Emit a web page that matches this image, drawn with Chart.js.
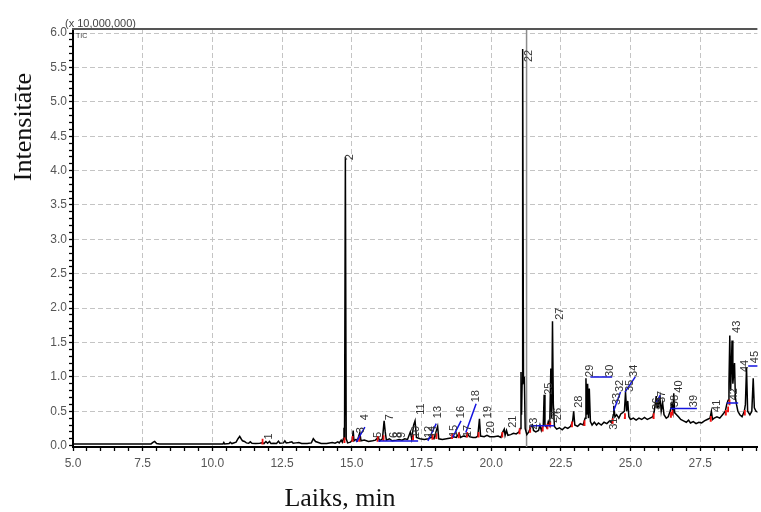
<!DOCTYPE html>
<html>
<head>
<meta charset="utf-8">
<script src="https://cdn.jsdelivr.net/npm/chart.js@4.4.1/dist/chart.umd.min.js"></script>
<style>
  html, body { margin: 0; padding: 0; background: #fff; }
  #wrap { width: 761px; height: 512px; }
</style>
</head>
<body>
<div id="wrap"><canvas id="chart" width="761" height="512"></canvas></div>
<script>
// TIC trace, time in min, intensity in x10,000,000
const times = [5.0, 6.0, 7.0, 7.8, 7.88, 7.93, 8.0, 8.1, 9.0, 10.0, 10.38, 10.41, 10.44, 10.6, 10.64, 10.7, 10.85, 10.92, 10.98, 11.03,
  11.08, 11.15, 11.22, 11.3, 11.36, 11.42, 11.55, 11.7, 11.78, 11.85, 11.92, 11.98, 12.05, 12.1, 12.2, 12.3, 12.37, 12.42, 12.55, 12.6,
  12.65, 12.75, 12.85, 12.9, 13.0, 13.1, 13.2, 13.4, 13.55, 13.62, 13.7, 13.8, 13.9, 14.1, 14.3, 14.4, 14.5, 14.55, 14.62, 14.66,
  14.7, 14.72, 14.74, 14.77, 14.8, 14.85, 14.95, 15.02, 15.05, 15.08, 15.15, 15.2, 15.29, 15.33, 15.45, 15.6, 15.75, 15.85, 15.95, 16.0,
  16.1, 16.16, 16.2, 16.24, 16.35, 16.45, 16.6, 16.7, 16.8, 16.9, 17.0, 17.1, 17.15, 17.22, 17.27, 17.32, 17.45, 17.6, 17.75, 17.85,
  17.95, 18.02, 18.08, 18.12, 18.25, 18.4, 18.55, 18.65, 18.75, 18.85, 18.9, 19.0, 19.1, 19.16, 19.22, 19.35, 19.45, 19.52, 19.58, 19.62,
  19.75, 19.85, 19.95, 20.1, 20.25, 20.35, 20.42, 20.47, 20.5, 20.55, 20.6, 20.7, 20.8, 20.9, 21.0, 21.04, 21.07, 21.09, 21.11, 21.13,
  21.16, 21.19, 21.22, 21.28, 21.35, 21.42, 21.48, 21.52, 21.6, 21.7, 21.75, 21.8, 21.87, 21.9, 21.93, 22.0, 22.05, 22.1, 22.14, 22.17,
  22.2, 22.23, 22.27, 22.35, 22.45, 22.55, 22.65, 22.75, 22.85, 22.92, 22.96, 23.0, 23.1, 23.2, 23.3, 23.37, 23.4, 23.43, 23.46, 23.49,
  23.52, 23.56, 23.62, 23.7, 23.78, 23.85, 23.95, 24.05, 24.15, 24.25, 24.33, 24.38, 24.4, 24.44, 24.5, 24.58, 24.65, 24.72, 24.78, 24.82,
  24.86, 24.9, 24.94, 25.0, 25.1, 25.2, 25.3, 25.4, 25.5, 25.6, 25.7, 25.8, 25.85, 25.9, 25.92, 25.95, 25.98, 26.02, 26.06, 26.1,
  26.15, 26.2, 26.28, 26.35, 26.42, 26.48, 26.52, 26.55, 26.58, 26.65, 26.72, 26.8, 26.9, 27.0, 27.08, 27.15, 27.25, 27.35, 27.45, 27.55,
  27.65, 27.75, 27.85, 27.9, 27.94, 28.0, 28.1, 28.2, 28.3, 28.4, 28.45, 28.5, 28.53, 28.56, 28.59, 28.62, 28.64, 28.67, 28.7, 28.73,
  28.76, 28.8, 28.85, 28.92, 29.0, 29.08, 29.12, 29.16, 29.2, 29.28, 29.35, 29.4, 29.44, 29.5, 29.6];
const tic = [0.025, 0.025, 0.025, 0.025, 0.05, 0.06, 0.03, 0.025, 0.025, 0.025, 0.025, 0.045, 0.025, 0.03, 0.05, 0.03, 0.05, 0.1, 0.135, 0.1,
  0.07, 0.06, 0.04, 0.035, 0.055, 0.035, 0.03, 0.035, 0.04, 0.03, 0.06, 0.035, 0.06, 0.03, 0.035, 0.03, 0.065, 0.035, 0.04, 0.07,
  0.04, 0.045, 0.055, 0.035, 0.04, 0.045, 0.03, 0.03, 0.04, 0.1, 0.06, 0.045, 0.03, 0.03, 0.045, 0.035, 0.055, 0.04, 0.08, 0.05,
  0.1, 0.26, 0.08, 4.2, 0.1, 0.04, 0.05, 0.08, 0.22, 0.07, 0.09, 0.07, 0.19, 0.07, 0.08, 0.06, 0.07, 0.08, 0.12, 0.07,
  0.1, 0.36, 0.2, 0.08, 0.1, 0.07, 0.08, 0.09, 0.08, 0.1, 0.09, 0.2, 0.1, 0.3, 0.36, 0.12, 0.1, 0.09, 0.1, 0.12,
  0.1, 0.2, 0.28, 0.1, 0.09, 0.1, 0.11, 0.13, 0.12, 0.18, 0.12, 0.14, 0.13, 0.17, 0.13, 0.12, 0.12, 0.14, 0.39, 0.14,
  0.13, 0.15, 0.13, 0.13, 0.14, 0.12, 0.2, 0.24, 0.15, 0.22, 0.15, 0.16, 0.18, 0.17, 0.2, 0.25, 1.07, 0.45, 0.9, 5.77,
  0.9, 1.0, 0.25, 0.16, 0.2, 0.27, 0.3, 0.22, 0.2, 0.22, 0.3, 0.22, 0.3, 0.74, 0.3, 0.26, 0.35, 0.3, 1.12, 0.4,
  1.81, 0.6, 0.28, 0.24, 0.26, 0.23, 0.27, 0.25, 0.28, 0.35, 0.5, 0.3, 0.28, 0.32, 0.3, 0.4, 0.98, 0.45, 0.9, 0.4,
  0.83, 0.35, 0.3, 0.34, 0.3, 0.33, 0.3, 0.34, 0.32, 0.36, 0.33, 0.45, 0.58, 0.42, 0.45, 0.4, 0.46, 0.48, 0.5, 0.78,
  0.5, 0.65, 0.42, 0.38, 0.4, 0.37, 0.4, 0.38, 0.41, 0.38, 0.4, 0.42, 0.5, 0.65, 0.72, 0.55, 0.68, 0.6, 0.7, 0.5,
  0.62, 0.45, 0.4, 0.42, 0.5, 0.6, 0.5, 0.76, 0.48, 0.45, 0.42, 0.38, 0.36, 0.34, 0.37, 0.33, 0.35, 0.32, 0.34, 0.33,
  0.36, 0.38, 0.4, 0.5, 0.38, 0.4, 0.42, 0.4, 0.45, 0.5, 0.6, 0.66, 0.9, 1.6, 0.8, 1.2, 1.53, 0.9, 1.05, 1.2,
  0.7, 0.6, 0.5, 0.45, 0.42, 0.5, 0.6, 1.14, 0.5, 0.45, 0.5, 0.98, 0.55, 0.5, 0.48];

// integration marks (red) at peak starts
const redT = [11.8, 14.74, 15.03, 15.27, 15.93, 16.14, 17.2, 17.9, 18.04, 18.6, 18.84, 19.14, 19.55, 20.4, 21.02, 21.4, 21.85, 22.02, 22.12,
  22.9, 23.35, 24.36, 24.8, 25.83, 26.45, 26.5, 27.88, 28.42, 28.5, 28.55, 29.1];
const redV = [0.03, 0.05, 0.07, 0.07, 0.07, 0.08, 0.09, 0.1, 0.11, 0.11, 0.12, 0.13, 0.13, 0.13, 0.18, 0.2, 0.22, 0.25, 0.28,
  0.28, 0.3, 0.33, 0.4, 0.4, 0.42, 0.45, 0.36, 0.45, 0.5, 0.6, 0.45];

// label leader lines (blue)
const blueX0 = [15.16, 15.95, 17.73, 18.62, 19.09, 21.41, 23.56, 24.4, 24.8, 25.93, 26.42, 28.45, 29.22];
const blueY0 = [0.05, 0.067, 0.07, 0.12, 0.19, 0.29, 1.0, 0.51, 0.78, 0.63, 0.54, 0.62, 1.16];
const blueX1 = [15.47, 17.38, 18.03, 18.92, 19.46, 22.26, 24.34, 24.64, 25.17, 26.06, 27.38, 28.86, 29.6];
const blueY1 = [0.27, 0.067, 0.32, 0.36, 0.61, 0.29, 1.0, 0.78, 1.0, 0.73, 0.54, 0.62, 1.16];

// peak numbers
const peakNames = ['1', '2', '22', '27', '3', '4', '5', '6', '8', '7', '9', '10', '11', '12', '14', '13', '15', '16', '17', '18', '19',
  '20', '21', '23', '24', '25', '26', '28', '29', '30', '31', '32', '33', '34', '35', '36', '37', '38', '40', '39', '41',
  '42', '43', '44', '45'];
const peakT = [12.02, 14.95, 21.34, 22.48, 15.34, 15.48, 15.95, 16.52, 16.66, 16.38, 16.8, 17.3, 17.48, 17.77, 17.91, 18.09, 18.66, 18.91, 19.16, 19.45, 19.88,
  19.98, 20.77, 21.55, 22.27, 22.09, 22.41, 23.16, 23.55, 24.27, 24.41, 24.63, 24.52, 25.13, 24.98, 25.95, 26.13, 26.59, 26.73, 27.27, 28.09,
  28.7, 28.8, 29.09, 29.45];
const peakV = [0.09, 4.15, 5.58, 1.83, 0.18, 0.37, 0.11, 0.11, 0.11, 0.37, 0.11, 0.11, 0.45, 0.11, 0.11, 0.4, 0.125, 0.4, 0.125, 0.63, 0.4,
  0.18, 0.26, 0.23, 0.33, 0.74, 0.37, 0.55, 1.0, 1.0, 0.23, 0.78, 0.59, 1.0, 0.78, 0.52, 0.62, 0.56, 0.77, 0.56, 0.49,
  0.66, 1.64, 1.07, 1.2];

const cursorT = 21.27;

const xMajor = [5, 7.5, 10, 12.5, 15, 17.5, 20, 22.5, 25, 27.5];
const yMajor = [0, 0.5, 1, 1.5, 2, 2.5, 3, 3.5, 4, 4.5, 5, 5.5, 6];

const traceData = times.map((t, i) => ({ x: t, y: tic[i] }));
const redData = [];
redT.forEach((t, i) => {
  redData.push({ x: t - 0.04, y: redV[i] }, { x: t, y: redV[i] }, { x: t, y: redV[i] + 0.07 }, { x: t, y: null });
});
const blueData = [];
blueX0.forEach((t, i) => {
  blueData.push({ x: t, y: blueY0[i] }, { x: blueX1[i], y: blueY1[i] }, { x: blueX1[i], y: null });
});

const isMajor = (v, list) => list.some(m => Math.abs(m - v) < 1e-6);
const tickFont = { family: '"Liberation Sans", Arial, sans-serif', size: 12 };

const extras = {
  id: 'extras',
  afterDatasetsDraw(chart) {
    const { ctx, scales: { x, y } } = chart;
    ctx.save();
    ctx.font = '11px "Liberation Sans", Arial, sans-serif';
    ctx.fillStyle = '#333';
    ctx.textAlign = 'left';
    ctx.textBaseline = 'middle';
    peakNames.forEach((name, i) => {
      ctx.save();
      ctx.translate(x.getPixelForValue(peakT[i]), y.getPixelForValue(peakV[i]));
      ctx.rotate(-Math.PI / 2);
      ctx.fillText(name, 0, 0);
      ctx.restore();
    });
    ctx.restore();
  },
  afterDraw(chart) {
    const { ctx, chartArea } = chart;
    ctx.save();
    // top frame line
    ctx.strokeStyle = '#555';
    ctx.lineWidth = 2;
    ctx.beginPath();
    ctx.moveTo(chartArea.left - 1, chartArea.top);
    ctx.lineTo(chartArea.right, chartArea.top);
    ctx.stroke();

    ctx.fillStyle = '#444';
    ctx.font = '11px "Liberation Sans", Arial, sans-serif';
    ctx.textAlign = 'left';
    ctx.textBaseline = 'alphabetic';
    ctx.fillText('(x 10,000,000)', 65, 27);
    ctx.font = '7px "Liberation Sans", Arial, sans-serif';
    ctx.fillText('TIC', 76, 38);

    ctx.fillStyle = '#111';
    ctx.font = '26px "Liberation Serif", "Times New Roman", serif';
    ctx.textAlign = 'center';
    ctx.fillText('Laiks, min', 340, 506);
    ctx.save();
    ctx.translate(31, 127);
    ctx.rotate(-Math.PI / 2);
    ctx.fillText('Intensitāte', 0, 0);
    ctx.restore();
    ctx.restore();
  }
};

new Chart(document.getElementById('chart'), {
  type: 'line',
  data: {
    datasets: [
      { data: blueData, borderColor: '#1515e0', borderWidth: 1.5, pointRadius: 0, spanGaps: false, order: 0 },
      { data: redData, borderColor: '#f01010', borderWidth: 1.8, pointRadius: 0, spanGaps: false, order: 1 },
      { data: traceData, borderColor: '#000', borderWidth: 1.5, pointRadius: 0, order: 2 },
      { data: [{ x: cursorT, y: -0.02 }, { x: cursorT, y: 6.06 }], borderColor: '#8c8c8c', borderWidth: 1.5, pointRadius: 0, order: 3 }
    ]
  },
  options: {
    responsive: false,
    animation: false,
    devicePixelRatio: 1,
    layout: { padding: { top: 29, right: 0, left: 0, bottom: 0 } },
    plugins: { legend: { display: false }, tooltip: { enabled: false } },
    elements: { line: { tension: 0 } },
    scales: {
      x: {
        type: 'linear',
        min: 5,
        max: 29.55,
        afterBuildTicks: s => { s.ticks = []; for (let v = 5; v <= 29.5 + 1e-6; v += 0.5) s.ticks.push({ value: +v.toFixed(1) }); },
        afterFit: s => { s.height = 65; },
        ticks: {
          autoSkip: false, maxRotation: 0, padding: 5, color: '#555', font: tickFont,
          callback: v => isMajor(v, xMajor) ? v.toFixed(1) : ''
        },
        grid: {
          color: c => isMajor(c.tick.value, xMajor) && c.tick.value > 5 ? '#c4c4c4' : 'rgba(0,0,0,0)',
          tickColor: '#000', tickLength: 4, tickWidth: 1.3, lineWidth: 1
        },
        border: { display: true, color: '#000', width: 2, dash: [5, 3] }
      },
      y: {
        type: 'linear',
        min: -0.02,
        max: 6.06,
        afterBuildTicks: s => { s.ticks = []; for (let i = 0; i <= 60; i++) s.ticks.push({ value: i / 10 }); },
        afterFit: s => { s.width = 73; },
        ticks: {
          autoSkip: false, padding: 2, color: '#555', font: tickFont,
          callback: v => isMajor(v, yMajor) ? v.toFixed(1) : ''
        },
        grid: {
          color: c => isMajor(c.tick.value, yMajor) && c.tick.value > 0 ? '#c4c4c4' : 'rgba(0,0,0,0)',
          tickColor: '#000', tickLength: 4, tickWidth: 1.3, lineWidth: 1
        },
        border: { display: true, color: '#000', width: 2, dash: [5, 3] }
      }
    }
  },
  plugins: [extras]
});
</script>
</body>
</html>
